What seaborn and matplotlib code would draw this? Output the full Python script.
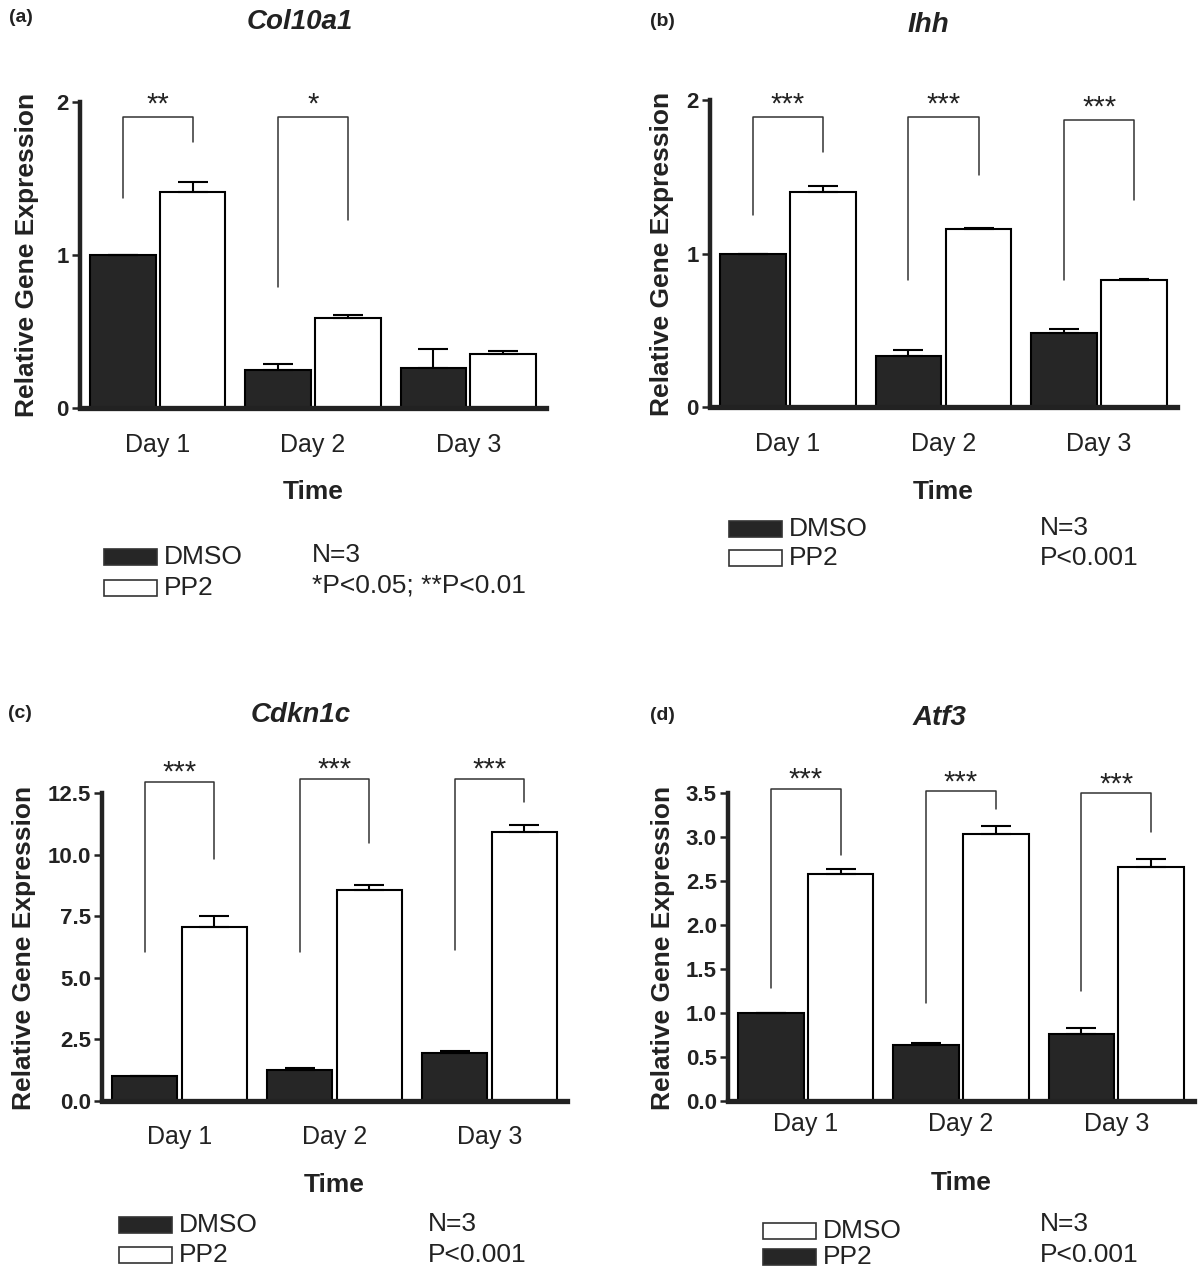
import numpy as np
import pandas as pd
import matplotlib.pyplot as plt
from matplotlib.patches import Rectangle
import seaborn as sns

# --- Data ---
DAYS = ['Day 1', 'Day 2', 'Day 3']
TREATMENTS = ['DMSO', 'PP2']

COL10A1_DMSO = [1.0, 0.25, 0.26]
COL10A1_DMSO_SEM = [0.0, 0.04, 0.125]
COL10A1_PP2 = [1.41, 0.59, 0.35]
COL10A1_PP2_SEM = [0.07, 0.02, 0.025]

IHH_DMSO = [1.0, 0.335, 0.485]
IHH_DMSO_SEM = [0.0, 0.035, 0.025]
IHH_PP2 = [1.40, 1.16, 0.83]
IHH_PP2_SEM = [0.04, 0.005, 0.005]

CDKN1C_DMSO = [1.0, 1.25, 1.94]
CDKN1C_DMSO_SEM = [0.0, 0.08, 0.08]
CDKN1C_PP2 = [7.08, 8.58, 10.9]
CDKN1C_PP2_SEM = [0.41, 0.2, 0.3]

ATF3_DMSO = [1.0, 0.64, 0.76]
ATF3_DMSO_SEM = [0.0, 0.02, 0.07]
ATF3_PP2 = [2.58, 3.03, 2.66]
ATF3_PP2_SEM = [0.06, 0.09, 0.09]

# significance brackets: (left leg bottom, top, right leg bottom), star level
COL10A1_BRACKETS = [(1.37, 1.90, 1.74), (0.79, 1.90, 1.23), None]
COL10A1_STARS = ['**', '*', '']
IHH_BRACKETS = [(1.25, 1.89, 1.66), (0.83, 1.89, 1.51), (0.83, 1.87, 1.35)]
IHH_STARS = ['***', '***', '***']
CDKN1C_BRACKETS = [(6.03, 12.95, 9.83), (6.03, 13.07, 10.48), (6.14, 13.07, 12.14)]
CDKN1C_STARS = ['***', '***', '***']
ATF3_BRACKETS = [(1.28, 3.55, 2.80), (1.11, 3.52, 3.32), (1.25, 3.50, 3.06)]
ATF3_STARS = ['***', '***', '***']

TICKS_AB = [0, 1, 2]
TICKS_C = [0.0, 2.5, 5.0, 7.5, 10.0, 12.5]
TICKS_D = [0.0, 0.5, 1.0, 1.5, 2.0, 2.5, 3.0, 3.5]

DARK = '#262626'
PALETTE = {'DMSO': DARK, 'PP2': 'white'}

W, H = 1200, 1276

sns.set_style('ticks')
plt.rcParams['font.family'] = ['Liberation Sans', 'DejaVu Sans']

fig = plt.figure(figsize=(W / 100, H / 100), dpi=100)


def px_axes(left, right, y0, ytop):
    return fig.add_axes([left / W, 1 - y0 / H, (right - left) / W, (y0 - ytop) / H])


def ftext(x, y, s, **kw):
    kw.setdefault('color', '#222222')
    fig.text(x / W, 1 - y / H, s, **kw)


def draw_panel(ax, dmso, dmso_sem, pp2, pp2_sem, ticks, fmt, brackets, stars, star_gap, xpad):
    df = pd.DataFrame({
        'day': DAYS * 2,
        'treatment': ['DMSO'] * 3 + ['PP2'] * 3,
        'value': dmso + pp2,
    })
    sns.barplot(data=df, x='day', y='value', hue='treatment', hue_order=TREATMENTS,
                palette=PALETTE, saturation=1, width=0.9, gap=0.06,
                edgecolor='black', linewidth=1.5, errorbar=None, legend=False, ax=ax)

    # upper error bars only
    centers = []
    for container, means, sems in zip(ax.containers, [dmso, pp2], [dmso_sem, pp2_sem]):
        xs = [b.get_x() + b.get_width() / 2 for b in container]
        centers.append(xs)
        ax.errorbar(xs, means, yerr=[np.zeros(len(means)), sems], fmt='none',
                    ecolor='black', elinewidth=1.5, capsize=11, capthick=1.5, zorder=3)

    # significance brackets
    for i, (br, st) in enumerate(zip(brackets, stars)):
        if br is None:
            continue
        xl, xr = centers[0][i], centers[1][i]
        ax.plot([xl, xl, xr, xr], [br[0], br[1], br[1], br[2]], color='#333333',
                lw=1.1, clip_on=False, zorder=4)
        ax.text((xl + xr) / 2, br[1] + star_gap, st, ha='center', va='center',
                fontsize=21, color='#222222', clip_on=False)

    ax.set_xlim(-0.5, 2.5)
    ax.set_ylim(0, ticks[-1])
    ax.set_yticks(ticks)
    ax.set_yticklabels([fmt.format(t) for t in ticks], fontsize=16, fontweight='bold')
    ax.tick_params(axis='y', length=6, width=1.8, pad=2, colors='#222222')
    ax.tick_params(axis='x', length=0, pad=xpad, labelsize=18, colors='#222222')
    ax.set_xlabel('')
    ax.set_ylabel('')
    sns.despine(ax=ax)
    ax.spines['left'].set_linewidth(3.2)
    ax.spines['bottom'].set_linewidth(3.8)
    ax.spines['left'].set_color('#222222')
    ax.spines['bottom'].set_color('#222222')


def legend_block(x, y_top, y_bot, top_color, bot_color, note1, note2, note_x, note_y1, note_y2):
    for yy, col in [(y_top, top_color), (y_bot, bot_color)]:
        fig.patches.append(Rectangle((x / W, 1 - (yy + 8) / H), 53 / W, 16 / H,
                                     transform=fig.transFigure, facecolor=col,
                                     edgecolor='#333333', lw=1.2))
    ftext(x + 60, y_top, 'DMSO', fontsize=19, va='center')
    ftext(x + 60, y_bot, 'PP2', fontsize=19, va='center')
    ftext(note_x, note_y1, note1, fontsize=19, va='center')
    ftext(note_x, note_y2, note2, fontsize=19, va='center')


# --- Panel (a) Col10a1 ---
ax_a = px_axes(80, 546, 408, 102)
draw_panel(ax_a, COL10A1_DMSO, COL10A1_DMSO_SEM, COL10A1_PP2, COL10A1_PP2_SEM,
           TICKS_AB, '{:.0f}', COL10A1_BRACKETS, COL10A1_STARS, 0.08, 18)
ftext(21, 18, '(a)', fontsize=14, fontweight='bold', ha='center', va='center')
ftext(300, 22, 'Col10a1', fontsize=20, fontweight='bold', style='italic', ha='center', va='center')
ftext(27, 255, 'Relative Gene Expression', fontsize=19, fontweight='bold', rotation=90,
      ha='center', va='center')
ftext(313, 492, 'Time', fontsize=19, fontweight='bold', ha='center', va='center')
legend_block(104, 557, 588, DARK, 'white', 'N=3', '*P<0.05; **P<0.01', 312, 555, 586)

# --- Panel (b) Ihh ---
ax_b = px_axes(710, 1177, 407, 100)
draw_panel(ax_b, IHH_DMSO, IHH_DMSO_SEM, IHH_PP2, IHH_PP2_SEM,
           TICKS_AB, '{:.0f}', IHH_BRACKETS, IHH_STARS, 0.08, 18)
ftext(662, 22, '(b)', fontsize=14, fontweight='bold', ha='center', va='center')
ftext(928, 25, 'Ihh', fontsize=20, fontweight='bold', style='italic', ha='center', va='center')
ftext(662, 254, 'Relative Gene Expression', fontsize=19, fontweight='bold', rotation=90,
      ha='center', va='center')
ftext(943, 492, 'Time', fontsize=19, fontweight='bold', ha='center', va='center')
legend_block(729, 529, 558, DARK, 'white', 'N=3', 'P<0.001', 1040, 528, 558)

# --- Panel (c) Cdkn1c ---
ax_c = px_axes(102, 567, 1101, 793)
draw_panel(ax_c, CDKN1C_DMSO, CDKN1C_DMSO_SEM, CDKN1C_PP2, CDKN1C_PP2_SEM,
           TICKS_C, '{:.1f}', CDKN1C_BRACKETS, CDKN1C_STARS, 0.38, 17)
ftext(20, 714, '(c)', fontsize=14, fontweight='bold', ha='center', va='center')
ftext(301, 715, 'Cdkn1c', fontsize=20, fontweight='bold', style='italic', ha='center', va='center')
ftext(24, 948, 'Relative Gene Expression', fontsize=19, fontweight='bold', rotation=90,
      ha='center', va='center')
ftext(334, 1185, 'Time', fontsize=19, fontweight='bold', ha='center', va='center')
legend_block(119, 1225, 1255, DARK, 'white', 'N=3', 'P<0.001', 428, 1224, 1255)

# --- Panel (d) Atf3 ---
ax_d = px_axes(728, 1194, 1101, 793)
draw_panel(ax_d, ATF3_DMSO, ATF3_DMSO_SEM, ATF3_PP2, ATF3_PP2_SEM,
           TICKS_D, '{:.1f}', ATF3_BRACKETS, ATF3_STARS, 0.10, 8)
ftext(662, 716, '(d)', fontsize=14, fontweight='bold', ha='center', va='center')
ftext(939, 718, 'Atf3', fontsize=20, fontweight='bold', style='italic', ha='center', va='center')
ftext(663, 948, 'Relative Gene Expression', fontsize=19, fontweight='bold', rotation=90,
      ha='center', va='center')
ftext(961, 1183, 'Time', fontsize=19, fontweight='bold', ha='center', va='center')
# legend in (d) is printed with the swatches swapped
legend_block(763, 1231, 1257, 'white', DARK, 'N=3', 'P<0.001', 1040, 1224, 1255)

fig.savefig('out.png', dpi=100)
print("Saved 'out.png'")
